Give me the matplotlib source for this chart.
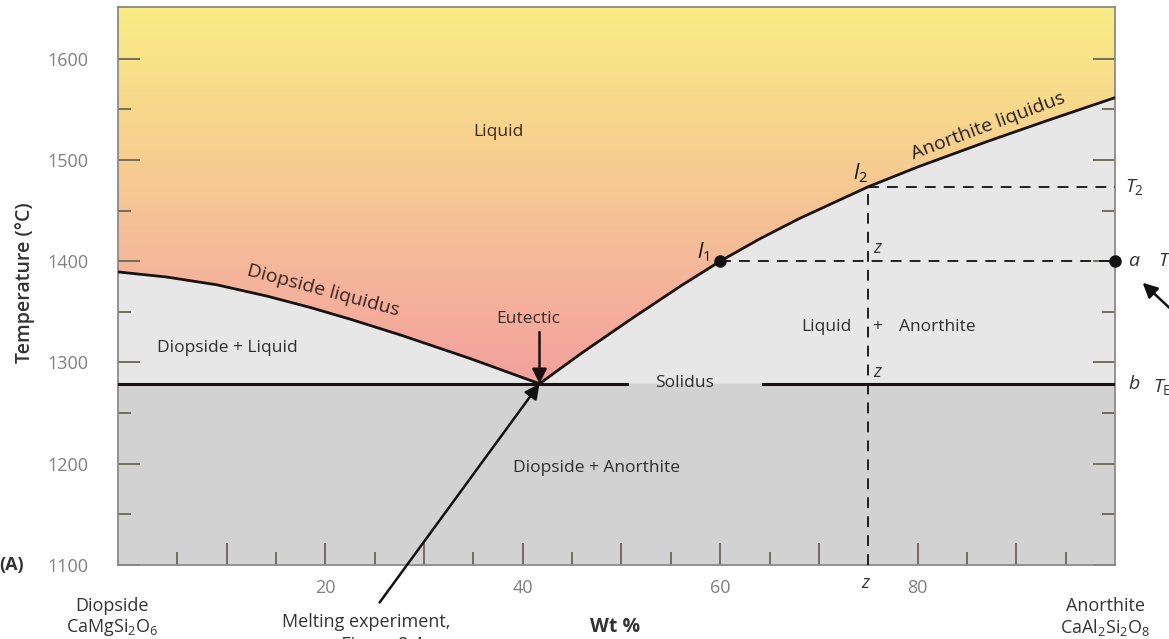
import numpy as np
import matplotlib.pyplot as plt
from matplotlib.colors import LinearSegmentedColormap
from matplotlib.patches import Polygon

plt.rcParams['font.family'] = ['Open Sans', 'DejaVu Sans']
plt.rcParams['mathtext.fontset'] = 'custom'
plt.rcParams['mathtext.rm'] = 'Open Sans'
plt.rcParams['mathtext.it'] = 'Open Sans:italic'
plt.rcParams['mathtext.bf'] = 'Open Sans:bold'

# liquidus do diopsídio e da anortita (wt % An, °C)
diop_liq_x = [-1.0, 3.9, 9.0, 14.1, 18.4, 22.5, 27.6, 34.7, 41.7]
diop_liq_T = [1389.4, 1384.4, 1376.7, 1365.5, 1354.5, 1342.8, 1327.2, 1303.8, 1279]
anor_liq_x = [41.7, 46, 51, 56, 60, 64, 68, 72, 75, 80, 87, 93, 100]
anor_liq_T = [1279, 1309.5, 1343, 1375.5, 1400, 1422, 1442, 1460, 1473.5,
              1493, 1518, 1538.4, 1561.5]

x_eut = 41.7
T_eut = 1279
x_l1 = 60.0
x_z = 75.0
T_1 = 1400
T_2 = 1473.5
solidus_gap = [50.6, 64.3]

xmin, xmax = -1.0, 100.0
ymin, ymax = 1100, 1651

x_major = [10, 20, 30, 40, 50, 60, 70, 80, 90]
x_labels = ['', '20', '', '40', '', '60', '', '80', '']
x_minor = [5, 15, 25, 35, 45, 55, 65, 85, 95]
y_major = [1100, 1200, 1300, 1400, 1500, 1600]
y_minor = [1150, 1250, 1350, 1450, 1550]

W, H = 1169, 639
fig = plt.figure(figsize=(W / 100, H / 100), dpi=100)
ax = fig.add_axes([118 / W, 74 / H, 997 / W, 558 / H])

# campos: liquido + cristal (cinza claro) e subsolidus (cinza escuro)
ax.set_facecolor('#e7e7e7')
ax.axhspan(ymin, T_eut, color='#d2d2d2', zorder=0)

# campo do liquido com degradê
liq_x = diop_liq_x + anor_liq_x[1:]
liq_T = diop_liq_T + anor_liq_T[1:]
pts = list(zip(liq_x, liq_T)) + [(xmax, ymax), (xmin, ymax)]
poly = Polygon(pts, closed=True, facecolor='none', edgecolor='none')
ax.add_patch(poly)
cmap = LinearSegmentedColormap.from_list(
    'liq', [(0, '#f3a09e'), (0.33, '#f5b99a'), (0.62, '#f7d08f'), (1, '#faec85')])
grad = np.linspace(0, 1, 256).reshape(-1, 1)
im = ax.imshow(grad, extent=[xmin, xmax, T_eut, ymax], origin='lower',
               cmap=cmap, aspect='auto', zorder=0.5, interpolation='bilinear')
im.set_clip_path(poly)

# linhas liquidus e solidus
lc = '#1a1210'
ax.plot(diop_liq_x, diop_liq_T, color=lc, lw=2, zorder=4, solid_joinstyle='round')
ax.plot(anor_liq_x, anor_liq_T, color=lc, lw=2, zorder=4, solid_joinstyle='round')
ax.plot([xmin, solidus_gap[0]], [T_eut, T_eut], color=lc, lw=2.2, zorder=4)
ax.plot([solidus_gap[1], xmax], [T_eut, T_eut], color=lc, lw=2.2, zorder=4)

# linhas tracejadas
dash = dict(color='#111111', lw=1.3, linestyle=(0, (6, 4.5)), zorder=3)
ax.plot([x_l1, xmax], [T_1, T_1], **dash)
ax.plot([x_z, xmax], [T_2, T_2], **dash)
ax.plot([x_z, x_z], [ymin, T_2], **dash)

ax.plot([x_l1, xmax], [T_1, T_1], 'o', color='#111111', ms=8, zorder=5, clip_on=False)

ax.set_xlim(xmin, xmax)
ax.set_ylim(ymin, ymax)

# eixos e ticks
for s in ax.spines.values():
    s.set_color('#8a8a8a')
    s.set_linewidth(1.3)
ax.set_xticks(x_major)
ax.set_xticklabels(x_labels)
ax.set_xticks(x_minor, minor=True)
ax.set_yticks(y_major)
ax.set_yticks(y_minor, minor=True)
ax.tick_params(which='both', direction='in', color='#6b6458', width=1.3,
               labelcolor='#808080', labelsize=13, right=True, top=False)
ax.tick_params(which='major', length=16)
ax.tick_params(which='minor', length=9.5)
ax.tick_params(axis='y', pad=21)
ax.tick_params(axis='x', pad=10)

txt = '#2e2e2e'
fs = 12.5
ax.text(37.5, 1528, 'Liquid', color='#3a2a14', fontsize=fs, ha='center', va='center')
ax.text(19.8, 1371, 'Diopside liquidus', color='#3a2420', fontsize=14,
        ha='center', va='center', rotation=-15)
ax.text(87.1, 1533, 'Anorthite liquidus', color='#2a2020', fontsize=14,
        ha='center', va='center', rotation=20.5)
ax.text(40.6, 1343, 'Eutectic', color='#3a2a24', fontsize=fs, ha='center', va='center')
ax.text(10.1, 1314, 'Diopside + Liquid', color=txt, fontsize=fs, ha='center', va='center')
ax.text(70.8, 1335, 'Liquid', color=txt, fontsize=fs, ha='center', va='center')
ax.text(75.9, 1335, '+', color=txt, fontsize=fs, ha='center', va='center')
ax.text(82.0, 1335, 'Anorthite', color=txt, fontsize=fs, ha='center', va='center')
ax.text(56.4, 1280, 'Solidus', color=txt, fontsize=fs, ha='center', va='center', zorder=5)
ax.text(47.5, 1196, 'Diopside + Anorthite', color=txt, fontsize=fs, ha='center', va='center')

ax.text(58.3, 1409, r'$l_1$', color='#111111', fontsize=15, ha='center', va='center')
ax.text(74.2, 1487, r'$l_2$', color='#111111', fontsize=15, ha='center', va='center')
ax.text(76.0, 1413, r'$z$', color='#333333', fontsize=13, ha='center', va='center')
ax.text(76.0, 1291, r'$z$', color='#333333', fontsize=13, ha='center', va='center')
ax.text(74.8, 1082, r'$z$', color='#333333', fontsize=13, ha='center', va='center')

ax.text(101.0, T_2, r'$T_2$', color='#333333', fontsize=14, ha='left', va='center')
ax.text(101.3, T_1, r'$a$', color='#333333', fontsize=14, ha='left', va='center')
ax.text(104.4, T_1, r'$T_1$', color='#333333', fontsize=14, ha='left', va='center')
ax.text(101.3, T_eut, r'$b$', color='#333333', fontsize=14, ha='left', va='center')
ax.text(103.9, T_eut - 3, r'$T_\mathrm{E}$', color='#333333', fontsize=14, ha='left', va='center')

# setas
ax.annotate('', xy=(x_eut, T_eut), xytext=(x_eut, 1330),
            arrowprops=dict(arrowstyle='-|>', mutation_scale=22, lw=1.8,
                            color='#1d1010', shrinkA=0, shrinkB=0))
ax.annotate('', xy=(x_eut, T_eut), xytext=(25.5, 1063), annotation_clip=False,
            arrowprops=dict(arrowstyle='-|>', mutation_scale=22, lw=1.8,
                            color='#111111', shrinkA=0, shrinkB=0))
ax.annotate('', xy=(102.8, 1378.7), xytext=(106.6, 1344), annotation_clip=False,
            arrowprops=dict(arrowstyle='-|>', mutation_scale=22, lw=1.8,
                            color='#111111', shrinkA=0, shrinkB=0))

# rótulos fora do gráfico
def ftext(x, y, s, **kw):
    fig.text(x / W, 1 - y / H, s, **kw)

ftext(112, 606, 'Diopside', fontsize=13, color='#333333', ha='center', va='center')
ftext(112, 628, r'CaMgSi$_2$O$_6$', fontsize=13, color='#333333', ha='center', va='center')
ftext(1105, 606, 'Anorthite', fontsize=13, color='#333333', ha='center', va='center')
ftext(1105, 628, r'CaAl$_2$Si$_2$O$_8$', fontsize=13, color='#333333', ha='center', va='center')
ftext(366, 622, 'Melting experiment,', fontsize=13, color='#333333', ha='center', va='center')
ftext(366, 645, 'see Figure 8.4', fontsize=13, color='#333333', ha='center', va='center')
ftext(615, 627, 'Wt %', fontsize=14, color='#333333', ha='center', va='center', weight='bold')
ftext(12, 565, '(A)', fontsize=13, color='#333333', ha='center', va='center', weight='bold')
ftext(25, 283, 'Temperature (°C)', fontsize=14, color='#333333', ha='center', va='center',
      rotation=90, weight='semibold')

fig.savefig('out.png', dpi=100)
